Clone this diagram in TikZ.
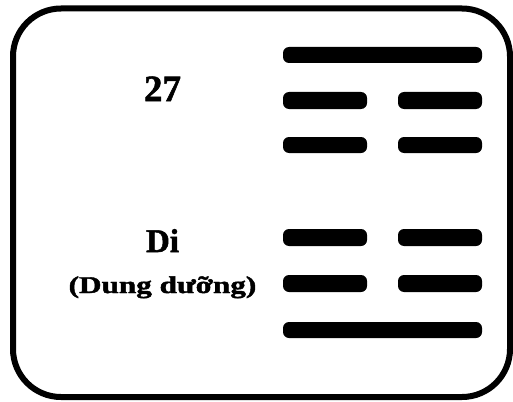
\documentclass[tikz,border=0pt]{standalone}
\usepackage{fontspec}
\setmainfont{Liberation Serif}
\newfontfamily\heavyserif[BoldFont={Liberation Serif Bold},BoldFeatures={FakeBold=1.5}]{Liberation Serif}
\begin{document}
\begin{tikzpicture}[x=1pt,y=-1pt,
  frame/.style={line width=6pt,rounded corners=48pt},
  bar/.style={fill=black,rounded corners=6pt},
  lbl/.style={inner sep=0pt,anchor=base}]
\useasboundingbox (0,0) rectangle (513,401);
\draw[frame] (13,8.5) rectangle (510,397);
% labels
\node[lbl,font=\heavyserif\bfseries\fontsize{37}{40}\selectfont] (num) at (162.5,101) {27};
\node[lbl,font=\heavyserif\bfseries\fontsize{33}{36}\selectfont] (name) at (162.5,252) {Di};
\node[lbl,font=\heavyserif\bfseries\fontsize{24}{26}\selectfont,xscale=1.3] (sub) at (162.5,293) {(Dung dưỡng)};
% hexagram lines (top to bottom)
\fill[bar] (283,47) rectangle (482,63);
\fill[bar] (283,92) rectangle (367,109);
\fill[bar] (398,92) rectangle (482,109);
\fill[bar] (283,137) rectangle (367,153);
\fill[bar] (398,137) rectangle (482,153);
\fill[bar] (283,229) rectangle (367,246);
\fill[bar] (398,229) rectangle (482,246);
\fill[bar] (283,275) rectangle (367,292);
\fill[bar] (398,275) rectangle (482,292);
\fill[bar] (283,322) rectangle (482,338);
\end{tikzpicture}
\end{document}
